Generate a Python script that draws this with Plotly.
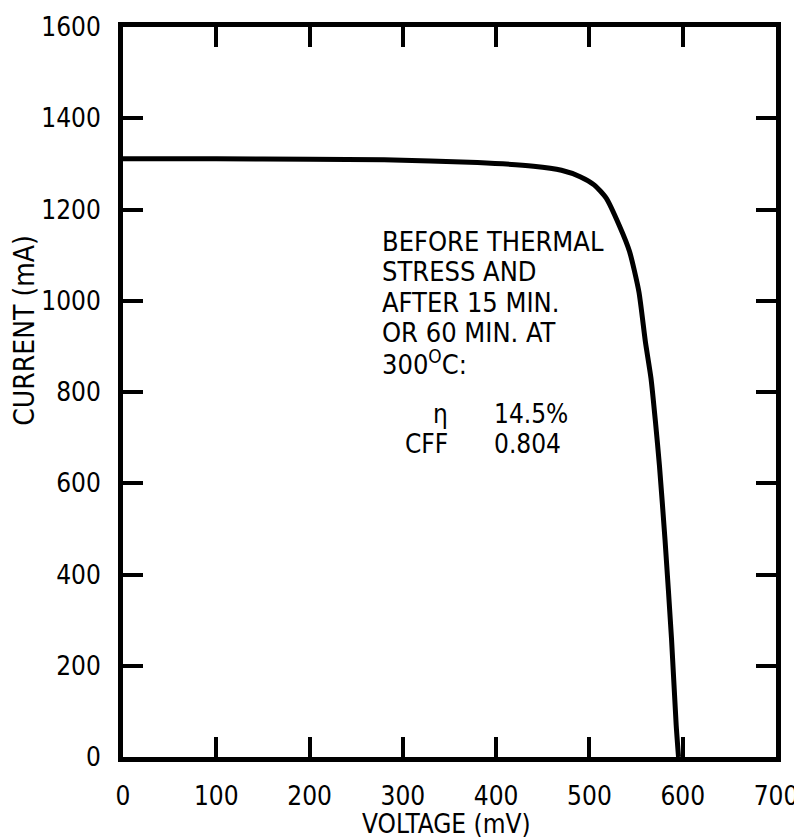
import plotly.graph_objects as go

# I-V curve
voltage_mV = [0, 100, 200, 280, 380, 440, 470, 490, 505, 518, 532, 543, 553, 560, 566, 571, 575, 581, 588, 593, 595.5]
current_mA = [1311, 1311, 1310, 1309, 1303, 1295, 1286, 1272, 1254, 1225, 1165, 1108, 1020, 910, 830, 730, 640, 477, 259, 70, 0]

x_ticks = [0, 100, 200, 300, 400, 500, 600, 700]
y_ticks = [0, 200, 400, 600, 800, 1000, 1200, 1400, 1600]

note_lines = ["BEFORE THERMAL", "STRESS AND", "AFTER 15 MIN.", "OR 60 MIN. AT", "300<sup>O</sup>C:"]
note_y = [1130, 1065, 996, 930, 864]
param_names = ["η", "CFF"]
param_values = ["14.5%", "0.804"]
param_y = [751, 685]

FONT = "DejaVu Sans Condensed, DejaVu Sans, sans-serif"

fig = go.Figure()
fig.add_trace(go.Scatter(
    x=voltage_mV, y=current_mA, mode="lines",
    line=dict(color="black", width=5, shape="spline", smoothing=0.6),
    showlegend=False, hoverinfo="skip",
))

axis_common = dict(
    ticks="inside", ticklen=20, tickwidth=4, tickcolor="black",
    showline=True, linewidth=5, linecolor="black", mirror="ticks",
    showgrid=False, zeroline=False, automargin=False,
    tickfont=dict(family=FONT, size=26, color="black"),
)

fig.update_xaxes(range=[0, 700], tickvals=x_ticks, ticktext=[str(v) for v in x_ticks],
                 ticklabelstandoff=12, **axis_common)
fig.update_yaxes(range=[0, 1600], tickvals=y_ticks, ticktext=[str(v) for v in y_ticks],
                 ticklabelstandoff=12, **axis_common)

annotations = []
for txt, yv in zip(note_lines, note_y):
    annotations.append(dict(x=275, y=yv, xref="x", yref="y", text=txt, showarrow=False,
                            xanchor="left", yanchor="middle",
                            font=dict(family=FONT, size=27, color="black")))
for name, val, yv in zip(param_names, param_values, param_y):
    annotations.append(dict(x=350, y=yv, xref="x", yref="y", text=name, showarrow=False,
                            xanchor="right", yanchor="middle",
                            font=dict(family=FONT, size=26, color="black")))
    annotations.append(dict(x=396, y=yv, xref="x", yref="y", text=val, showarrow=False,
                            xanchor="left", yanchor="middle",
                            font=dict(family=FONT, size=26, color="black")))
annotations.append(dict(x=-0.150, y=0.584, xref="paper", yref="paper", text="CURRENT (mA)",
                        textangle=-90, showarrow=False, xanchor="center", yanchor="middle",
                        font=dict(family=FONT, size=28, color="black")))
annotations.append(dict(x=0.496, y=-0.0915, xref="paper", yref="paper", text="VOLTAGE (mV)",
                        showarrow=False, xanchor="center", yanchor="middle",
                        font=dict(family=FONT, size=26, color="black")))

fig.update_layout(
    width=794, height=831,
    margin=dict(l=115, r=26, t=19, b=82),
    paper_bgcolor="white", plot_bgcolor="white",
    annotations=annotations,
)

fig.write_html("out.html")
